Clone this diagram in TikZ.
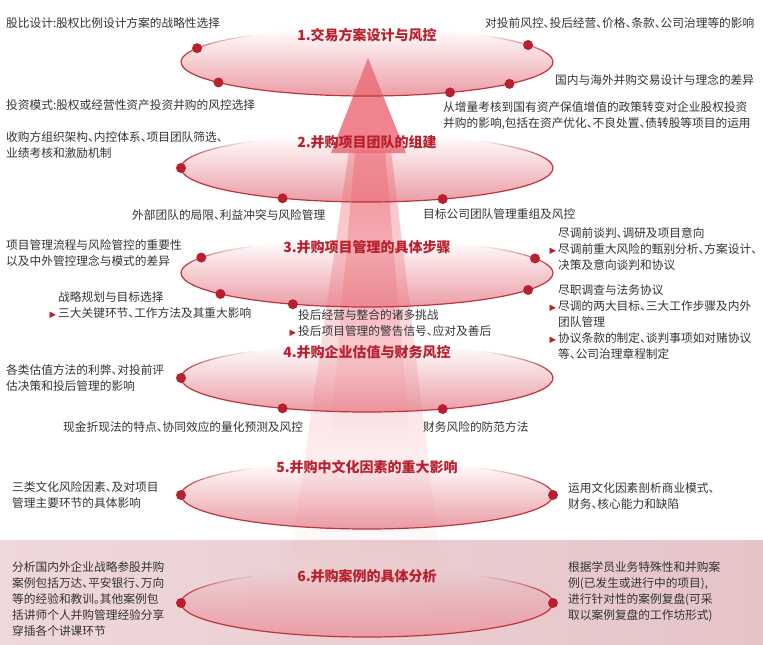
\documentclass[tikz,border=0pt]{standalone}
\usepackage{fontspec}
\setmainfont{Noto Sans CJK SC}[RawFeature=+halt]
\newfontfamily\symfont{DejaVu Sans}
\usetikzlibrary{calc, fadings}
\definecolor{mnaRed}{HTML}{B8202E}
\definecolor{mnaLine}{HTML}{C0323E}
\definecolor{mnaPink}{HTML}{EB9DA6}
\definecolor{mnaBeam}{HTML}{EC6F7A}
\definecolor{mnaText}{HTML}{333333}
\definecolor{mnaBandL}{HTML}{EFD8DA}
\definecolor{mnaBandR}{HTML}{E5C4C8}
\tikzset{
  ringfill/.style = {fill=mnaPink, path fading=north},
  ringline/.style = {mnaLine, line width=1.2pt},
  ringdot/.style  = {circle, fill=mnaRed, inner sep=0pt, minimum size=10pt},
  ttl/.style      = {font=\bfseries\fontsize{14}{17}\selectfont, mnaRed, inner sep=0pt},
  txt/.style      = {font=\fontsize{11.7}{16}\selectfont, mnaText, align=left,
                     anchor=north west, inner sep=0pt},
}
\newcommand{\bul}{\llap{{\symfont\fontsize{8.5}{8.5}\selectfont\textcolor{mnaRed}{▶}}\hspace{2pt}}}

\begin{document}
\begin{tikzpicture}[x=1pt, y=-1pt]
\newcommand{\ringedge}[1]{% outline, upper arcs fade out
  \draw[ringline] ($(#1)+(0:186 and 34)$) arc[start angle=0, end angle=180, x radius=186, y radius=34];
  \foreach \k [evaluate=\k as \op using {min(1,(13-\k)/10)}] in {0,...,12}{
    \draw[ringline, draw opacity=\op] ($(#1)+({180+4*\k}:186 and 34)$)
      arc[start angle={180+4*\k}, end angle={184+4*\k}, x radius=186, y radius=34];
    \draw[ringline, draw opacity=\op] ($(#1)+({360-4*\k}:186 and 34)$)
      arc[start angle={360-4*\k}, end angle={356-4*\k}, x radius=186, y radius=34];
  }}
\useasboundingbox (0,0) rectangle (763,645);
\shade[left color=mnaBandL, right color=mnaBandR] (0,540) rectangle (763,645);

\coordinate (c1) at (367,62);
\coordinate (c2) at (367,168);
\coordinate (c3) at (367,273);
\coordinate (c4) at (367,378);
\coordinate (c5) at (367,495);
\coordinate (c6) at (367,603);

\foreach \c in {c1,c2,c3,c4,c5,c6}
  \fill[ringfill] (\c) ellipse [x radius=186, y radius=34];

% rising arrow
\fill[mnaBeam, fill opacity=0.45, path fading=south] (349,150) -- (391,150) -- (442,575) -- (288,575) -- cycle;
\fill[mnaBeam, fill opacity=0.55, path fading=south] (355,150) -- (385,150) -- (410,440) -- (330,440) -- cycle;
\fill[mnaBeam, fill opacity=0.85] (368,58) -- (406,153) -- (331,153) -- cycle;

\foreach \c in {c1,c2,c3,c4,c5,c6}{\ringedge{\c}}

\node[ringdot] (d11) at ($(c1)+(204:186 and 34)$) {};
\node[ringdot] (d12) at ($(c1)+(143:186 and 34)$) {};
\node[ringdot] (d13) at ($(c1)+(63.5:186 and 34)$) {};
\node[ringdot] (d14) at ($(c1)+(40:186 and 34)$) {};
\node[ringdot] (d15) at ($(c1)+(330:186 and 34)$) {};
\node[ringdot] (d21) at ($(c2)+(180:186 and 34)$) {};
\node[ringdot] (d22) at ($(c2)+(117:186 and 34)$) {};
\node[ringdot] (d23) at ($(c2)+(66:186 and 34)$) {};
\node[ringdot] (d31) at ($(c3)+(207:186 and 34)$) {};
\node[ringdot] (d32) at ($(c3)+(142:186 and 34)$) {};
\node[ringdot] (d33) at ($(c3)+(113.5:186 and 34)$) {};
\node[ringdot] (d34) at ($(c3)+(334.6:186 and 34)$) {};
\node[ringdot] (d35) at ($(c3)+(30:186 and 34)$) {};
\node[ringdot] (d41) at ($(c4)+(180:186 and 34)$) {};
\node[ringdot] (d42) at ($(c4)+(117:186 and 34)$) {};
\node[ringdot] (d43) at ($(c4)+(66:186 and 34)$) {};
\node[ringdot] (d51) at ($(c5)+(180:186 and 34)$) {};
\node[ringdot] (d52) at ($(c5)+(0:186 and 34)$) {};
\node[ringdot] (d61) at ($(c6)+(180:186 and 34)$) {};
\node[ringdot] (d62) at ($(c6)+(0:186 and 34)$) {};

\node[ttl] (t1) at (367,35) {1.交易方案设计与风控};
\node[ttl] (t2) at (367,142) {2.并购项目团队的组建};
\node[ttl] (t3) at (367,247) {3.并购项目管理的具体步骤};
\node[ttl] (t4) at (367,352) {4.并购企业估值与财务风控};
\node[ttl] (t5) at (367,467) {5.并购中文化因素的重大影响};
\node[ttl] (t6) at (367,576) {6.并购案例的具体分析};

\node[txt] (s1a) at (6,17) {股比设计:股权比例设计方案的战略性选择};
\node[txt] (s1b) at (6,99) {投资模式:股权或经营性资产投资并购的风控选择};
\node[txt] (s1c) at (485,17) {对投前风控、投后经营、价格、条款、公司治理等的影响};
\node[txt] (s1d) at (555,74) {国内与海外并购交易设计与理念的差异};
\node[txt] (s1e) at (443,101) {从增量考核到国有资产保值增值的政策转变对企业股权投资\\并购的影响,包括在资产优化、不良处置、债转股等项目的运用};
\node[txt] (s2a) at (6,131) {收购方组织架构、内控体系、项目团队筛选、\\业绩考核和激励机制};
\node[txt] (s2b) at (132,209) {外部团队的局限、利益冲突与风险管理};
\node[txt] (s2c) at (423,208) {目标公司团队管理重组及风控};
\node[txt] (s3a) at (6,239) {项目管理流程与风险管控的重要性\\以及中外管控理念与模式的差异};
\node[txt] (s3b) at (58,291) {战略规划与目标选择\\\bul 三大关键环节、工作方法及其重大影响};
\node[txt] (s3c) at (298,309) {投后经营与整合的诸多挑战\\\bul 投后项目管理的警告信号、应对及善后};
\node[txt] (s3d) at (558,227) {尽调前谈判、调研及项目意向\\\bul 尽调前重大风险的甄别分析、方案设计、\\决策及意向谈判和协议};
\node[txt] (s3e) at (558,284) {尽职调查与法务协议\\\bul 尽调的两大目标、三大工作步骤及内外\\团队管理\\\bul 协议条款的制定、谈判事项如对赌协议\\等、公司治理章程制定};
\node[txt] (s4a) at (6,364) {各类估值方法的利弊、对投前评\\估决策和投后管理的影响};
\node[txt] (s4b) at (63,421) {现金折现法的特点、协同效应的量化预测及风控};
\node[txt] (s4c) at (423,421) {财务风险的防范方法};
\node[txt] (s5a) at (12,481) {三类文化风险因素、及对项目\\管理主要环节的具体影响};
\node[txt] (s5b) at (568,482) {运用文化因素剖析商业模式、\\财务、核心能力和缺陷};
\node[txt] (s6a) at (12,561) {分析国内外企业战略参股并购\\案例包括万达、平安银行、万向\\等的经验和教训。其他案例包\\括讲师个人并购管理经验分享\\穿插各个讲课环节};
\node[txt] (s6b) at (568,561) {根据学员业务特殊性和并购案\\例(已发生或进行中的项目),\\进行针对性的案例复盘(可采\\取以案例复盘的工作坊形式)};
\end{tikzpicture}
\end{document}
